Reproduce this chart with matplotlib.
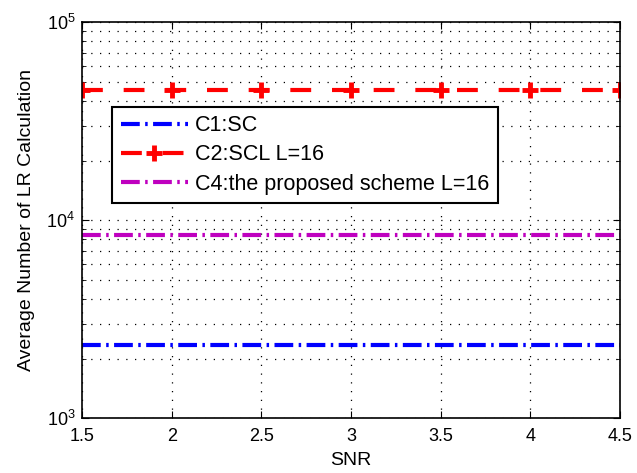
import matplotlib
matplotlib.use("Agg")
import matplotlib.pyplot as plt
import numpy as np
from matplotlib.ticker import LogLocator, NullFormatter

snr = [1.5, 2, 2.5, 3, 3.5, 4, 4.5]
c1_sc = [2350, 2350, 2350, 2350, 2350, 2350, 2350]
c2_scl = [45500, 45500, 45500, 45500, 45500, 45500, 45500]
c4_proposed = [8400, 8400, 8400, 8400, 8400, 8400, 8400]
labels = ["C1:SC", "C2:SCL L=16", "C4:the proposed scheme L=16"]

plt.rcParams['font.family'] = ['Liberation Sans', 'DejaVu Sans']

fig = plt.figure(figsize=(6.37, 4.73), dpi=100)
ax = fig.add_axes([0.129, 0.116, 0.844, 0.837])

ax.plot(snr, c1_sc, color='#0000ff', lw=3, linestyle=(0, (4.5, 1.3, 0.6, 1.3)), label=labels[0])
ax.plot(snr, c2_scl, color='#ff0000', lw=3, linestyle=(0, (5, 5)), marker='+',
        markersize=11, markeredgewidth=3.5, label=labels[1])
ax.plot(snr, c4_proposed, color='#bf00bf', lw=3, linestyle=(0, (4.5, 1.3, 0.6, 1.3)), label=labels[2])

ax.set_yscale('log')
ax.set_xlim(1.5, 4.5)
ax.set_ylim(1e3, 1e5)
ax.set_xticks([1.5, 2, 2.5, 3, 3.5, 4, 4.5])
ax.set_xticklabels(["1.5", "2", "2.5", "3", "3.5", "4", "4.5"])
ax.yaxis.set_major_locator(LogLocator(base=10))
ax.yaxis.set_minor_locator(LogLocator(base=10, subs=np.arange(2, 10)))
ax.yaxis.set_minor_formatter(NullFormatter())

ax.grid(True, which='major', color='black', linestyle=(0, (1, 6)), lw=0.9)
ax.grid(True, which='minor', axis='y', color='black', linestyle=(0, (1, 6)), lw=0.9)

ax.tick_params(which='both', direction='in', top=True, right=True, labelsize=13)
ax.tick_params(which='major', length=5)
ax.tick_params(which='minor', length=3)
ax.tick_params(axis='x', pad=7)
ax.tick_params(axis='y', pad=5)
for s in ax.spines.values():
    s.set_linewidth(1.2)

ax.set_xlabel("SNR", fontsize=14, labelpad=5)
ax.set_ylabel("Average Number of LR Calculation", fontsize=14, labelpad=8)

leg = ax.legend(loc='upper left', bbox_to_anchor=(0.056, 0.787), fontsize=15.5,
                handlelength=3.1, handletextpad=0.35, frameon=True, fancybox=False,
                borderaxespad=0, labelspacing=0.38, borderpad=0.4)
leg.get_frame().set_edgecolor('black')
leg.get_frame().set_linewidth(1.5)
leg.get_frame().set_alpha(1)

fig.savefig("out.png", dpi=100)
